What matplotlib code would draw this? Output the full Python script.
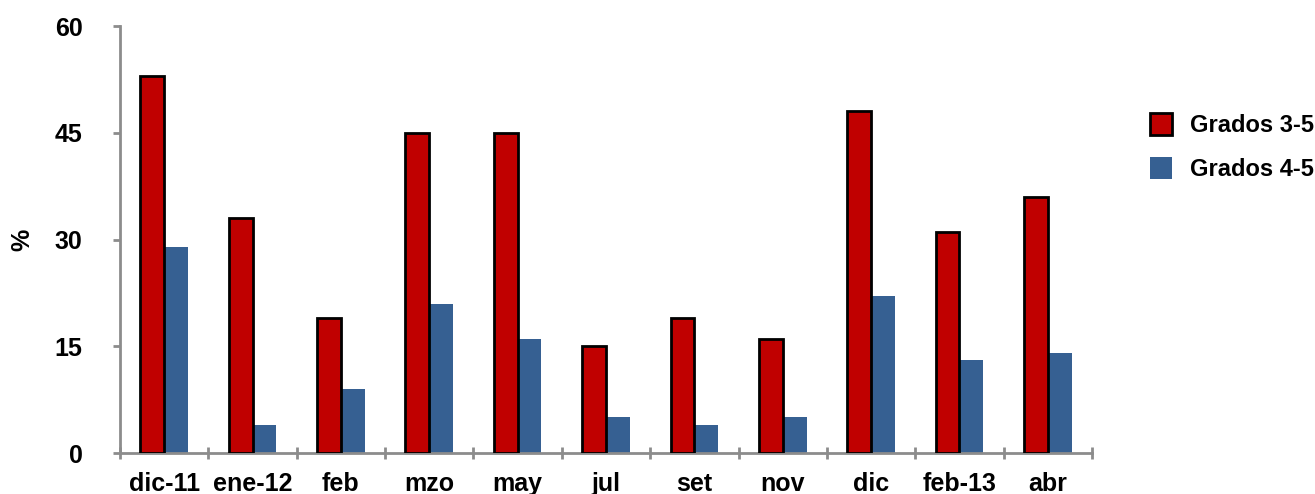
import matplotlib
matplotlib.use("Agg")
import matplotlib.pyplot as plt
import numpy as np
from matplotlib.patches import Patch

categories = ["dic-11", "ene-12", "feb", "mzo", "may", "jul", "set", "nov", "dic", "feb-13", "abr"]
grados_3_5 = [53, 33, 19, 45, 45, 15, 19, 16, 48, 31, 36]
grados_4_5 = [29, 4, 9, 21, 16, 5, 4, 5, 22, 13, 14]
yticks = [0, 15, 30, 45, 60]

plt.rcParams['font.family'] = ['Liberation Sans', 'DejaVu Sans']
plt.rcParams['font.weight'] = 'bold'

W, H = 1315, 494
fig = plt.figure(figsize=(W / 100, H / 100), dpi=100)
ax = fig.add_axes([120 / W, 1 - 453 / H, (1092 - 120) / W, (453 - 26) / H])

red = '#C00000'
blue = '#366092'
fs = 18
x = np.arange(len(categories))
bw = 0.27
ax.bar(x - bw / 2, grados_3_5, width=bw, color=red, edgecolor='black', linewidth=2.0, zorder=3)
ax.bar(x + bw / 2, grados_4_5, width=bw, color=blue, edgecolor='none', zorder=2)

ax.set_xlim(-0.5, len(categories) - 0.5)
ax.set_ylim(0, 60)
ax.set_yticks(yticks)
ax.set_yticklabels([str(v) for v in yticks], fontsize=fs, fontweight='bold')
ax.set_xticks(x)
ax.set_xticklabels(categories, fontsize=fs, fontweight='bold')
ax.set_xticks(np.arange(len(categories) + 1) - 0.5, minor=True)

gray = '#8c8c8c'
for s in ['top', 'right']:
    ax.spines[s].set_visible(False)
for s in ['left', 'bottom']:
    ax.spines[s].set_color(gray)
    ax.spines[s].set_linewidth(2)

ax.tick_params(axis='y', direction='out', length=5, width=2, color=gray, pad=22)
ax.tick_params(axis='x', which='major', length=0, pad=14)
ax.tick_params(axis='x', which='minor', direction='inout', length=9, width=2, color=gray)

fig.text(22 / W, 1 - 239.5 / H, '%', rotation=90, fontsize=fs, fontweight='bold',
         ha='center', va='center')

handles = [Patch(facecolor=red, edgecolor='black', linewidth=2.0, label='Grados 3-5'),
           Patch(facecolor=blue, edgecolor='none', label='Grados 4-5')]
fig.legend(handles=handles, loc='upper left', bbox_to_anchor=(1150 / W, 1 - 113 / H),
           frameon=False, prop={'size': 17, 'weight': 'bold'},
           handlelength=0.95, handleheight=1.05, handletextpad=0.75, labelspacing=0.85,
           borderaxespad=0, borderpad=0)

fig.savefig('out.png', dpi=100)
